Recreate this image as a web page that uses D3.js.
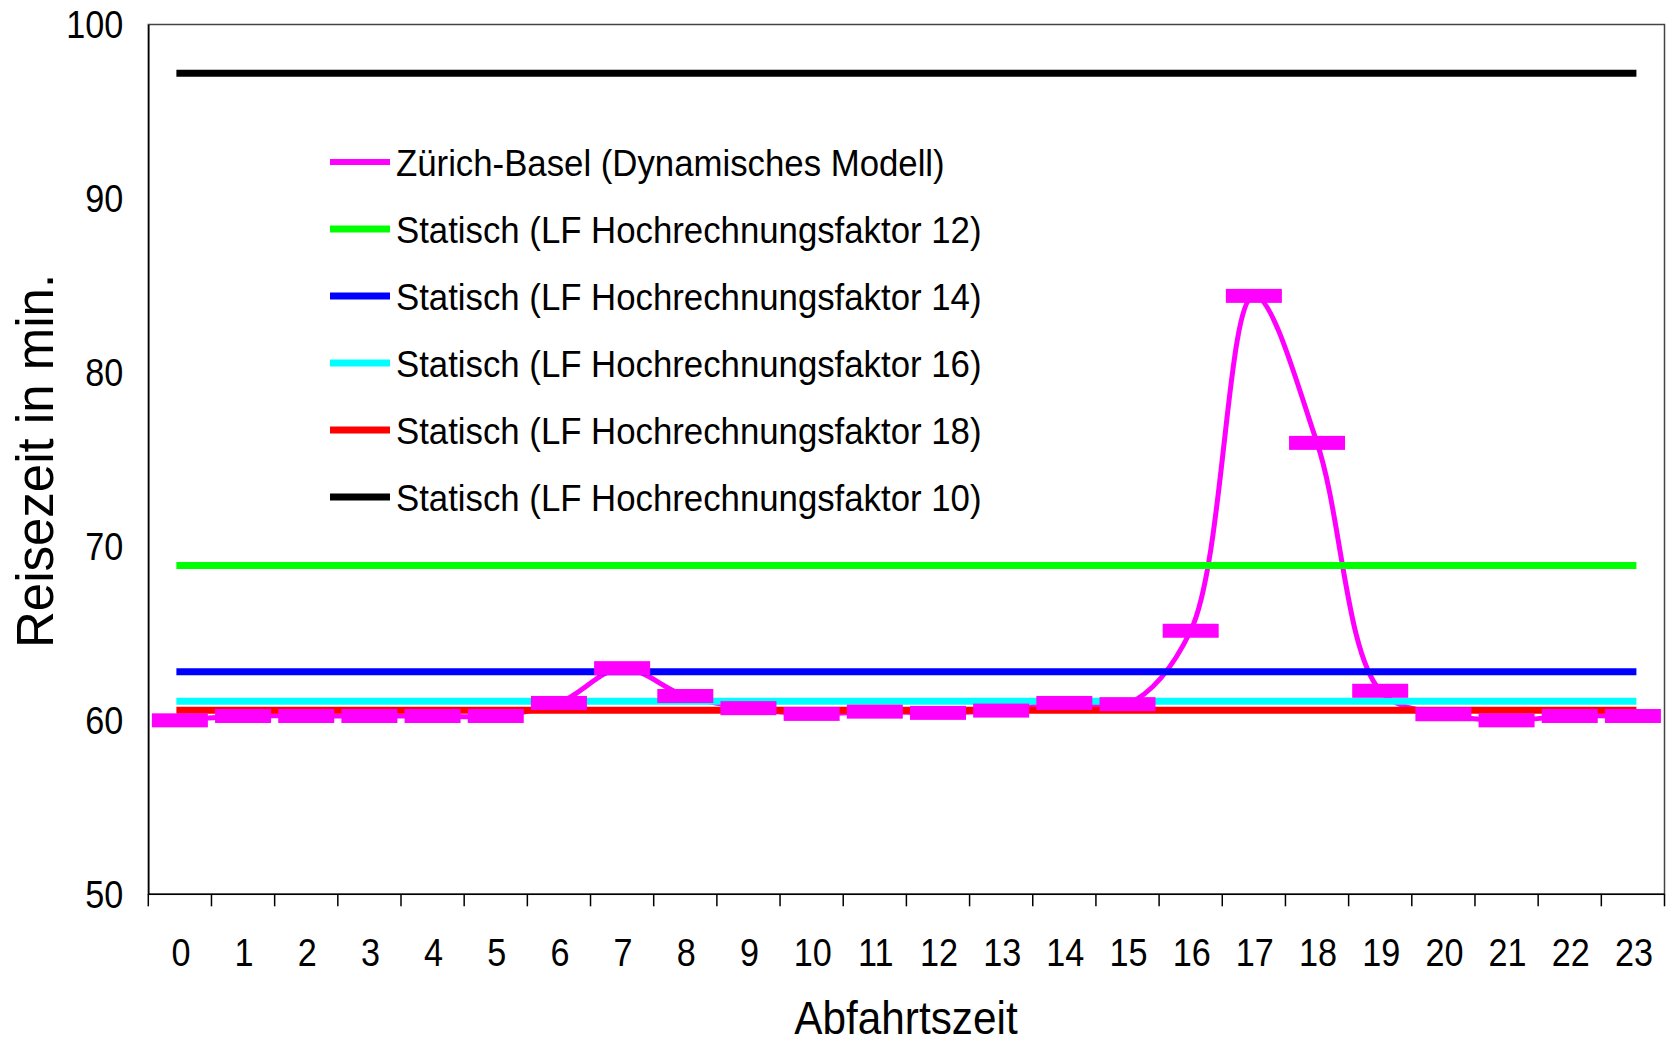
<!DOCTYPE html>
<html>
<head>
<meta charset="utf-8">
<script src="https://cdn.jsdelivr.net/npm/d3@7"></script>
<style>
  body { margin: 0; background: #fff; }
  text { font-family: "Liberation Sans", Arial, sans-serif; fill: #000; }
</style>
</head>
<body>
<svg id="chart"></svg>
<script>
// Data
const hours = ["0","1","2","3","4","5","6","7","8","9","10","11","12","13","14","15","16","17","18","19","20","21","22","23"];
const dynamicValues = [60.0, 60.25, 60.25, 60.25, 60.25, 60.25, 61.0, 63.0, 61.4, 60.7, 60.37, 60.5, 60.43, 60.56, 61.0, 60.93, 65.15, 84.4, 75.95, 61.7, 60.35, 60.0, 60.25, 60.25];
const dynamicName = "Zürich-Basel (Dynamisches Modell)";
const staticNames = [
    "Statisch (LF Hochrechnungsfaktor 12)",
    "Statisch (LF Hochrechnungsfaktor 14)",
    "Statisch (LF Hochrechnungsfaktor 16)",
    "Statisch (LF Hochrechnungsfaktor 18)",
    "Statisch (LF Hochrechnungsfaktor 10)"
];
const staticValues = [68.9, 62.8, 61.1, 60.58, 97.2];
const staticColors = ["#00ff00", "#0000ff", "#00ffff", "#ff0000", "#000000"];
const dynamicColor = "#ff00ff";
const yTicks = [50, 60, 70, 80, 90, 100];

// Dimensions
const width = 1671;
const height = 1042;
const margin = {top: 24.5, right: 6.5, bottom: 147.7, left: 148.3};

const svg = d3.select("#chart")
    .attr("width", width)
    .attr("height", height);

// Scales
const x = d3.scaleBand()
    .domain(hours)
    .range([margin.left, width - margin.right])
    .padding(0);

const y = d3.scaleLinear()
    .domain([50, 100])
    .range([height - margin.bottom, margin.top]);

const cx = d => x(d) + x.bandwidth() / 2;

// Plot frame
svg.append("rect")
    .attr("x", margin.left)
    .attr("y", margin.top)
    .attr("width", width - margin.left - margin.right)
    .attr("height", height - margin.top - margin.bottom)
    .attr("fill", "none")
    .attr("stroke", "#444")
    .attr("stroke-width", 1.5);

// Y axis (no tick marks), labels slightly condensed like the original
const yAxis = svg.append("g")
    .attr("transform", `translate(${margin.left},0)`)
    .call(d3.axisLeft(y).tickValues(yTicks).tickSize(0).tickPadding(25));
yAxis.select(".domain").attr("stroke", "#000").attr("stroke-width", 1.5);
yAxis.selectAll(".tick text").remove();
yAxis.selectAll(".tick")
    .append("text")
    .attr("transform", "translate(-25,0) scale(0.9,1)")
    .attr("dy", "0.35em")
    .attr("text-anchor", "end")
    .style("font-size", "38px")
    .text(d => d);

// X axis: ticks on band boundaries, labels at centers
const xAxis = svg.append("g")
    .attr("transform", `translate(0,${height - margin.bottom})`);
xAxis.append("line")
    .attr("x1", margin.left).attr("x2", width - margin.right)
    .attr("stroke", "#000").attr("stroke-width", 1.5);
xAxis.selectAll(".tick-mark")
    .data(hours.concat(["end"]))
    .enter()
    .append("line")
    .attr("class", "tick-mark")
    .attr("x1", (d, i) => i < hours.length ? x(d) : x.range()[1])
    .attr("x2", (d, i) => i < hours.length ? x(d) : x.range()[1])
    .attr("y1", 0)
    .attr("y2", 12)
    .attr("stroke", "#000")
    .attr("stroke-width", 1.5);
xAxis.selectAll(".tick-label")
    .data(hours)
    .enter()
    .append("text")
    .attr("class", "tick-label")
    .attr("transform", d => `translate(${cx(d) + 1},72) scale(0.9,1)`)
    .attr("text-anchor", "middle")
    .style("font-size", "38px")
    .text(d => d);

// Axis titles
svg.append("text")
    .attr("transform", `translate(906,1034) scale(0.92,1)`)
    .attr("text-anchor", "middle")
    .style("font-size", "46px")
    .text("Abfahrtszeit");

svg.append("text")
    .attr("transform", `translate(53,461) rotate(-90)`)
    .attr("text-anchor", "middle")
    .style("font-size", "51px")
    .text("Reisezeit in min.");

// Dynamic series line (smoothed)
const line = d3.line()
    .x((d, i) => cx(hours[i]))
    .y(d => y(d))
    .curve(d3.curveCatmullRom.alpha(0.5));

svg.append("path")
    .datum(dynamicValues)
    .attr("d", line)
    .attr("fill", "none")
    .attr("stroke", dynamicColor)
    .attr("stroke-width", 5);

// Static levels
svg.selectAll(".static-line")
    .data(staticValues)
    .enter()
    .append("line")
    .attr("class", "static-line")
    .attr("x1", cx(hours[0]))
    .attr("x2", cx(hours[hours.length - 1]))
    .attr("y1", d => y(d))
    .attr("y2", d => y(d))
    .attr("stroke", (d, i) => staticColors[i])
    .attr("stroke-width", 7)
    .attr("stroke-linecap", "square");

// Dash markers on top
const markerW = 56;
const markerH = 14;
svg.selectAll(".marker")
    .data(dynamicValues)
    .enter()
    .append("rect")
    .attr("class", "marker")
    .attr("x", (d, i) => cx(hours[i]) - markerW / 2)
    .attr("y", d => y(d) - markerH / 2)
    .attr("width", markerW)
    .attr("height", markerH)
    .attr("fill", dynamicColor);

// Legend
const legendItems = [{label: dynamicName, color: dynamicColor, w: 6}]
    .concat(staticNames.map((n, i) => ({label: n, color: staticColors[i], w: 7})));

const legend = svg.append("g")
    .attr("class", "legend")
    .attr("transform", "translate(330,162)");

legend.selectAll(".legend-item")
    .data(legendItems)
    .enter()
    .append("g")
    .attr("class", "legend-item")
    .attr("transform", (d, i) => `translate(0, ${i * 67})`)
    .each(function (d) {
        d3.select(this)
            .append("line")
            .attr("x1", 0).attr("x2", 60)
            .attr("y1", 0).attr("y2", 0)
            .attr("stroke", d.color)
            .attr("stroke-width", d.w);

        d3.select(this)
            .append("text")
            .attr("transform", "translate(66,14) scale(0.94,1)")
            .style("font-size", "37px")
            .text(d.label);
    });
</script>
</body>
</html>
